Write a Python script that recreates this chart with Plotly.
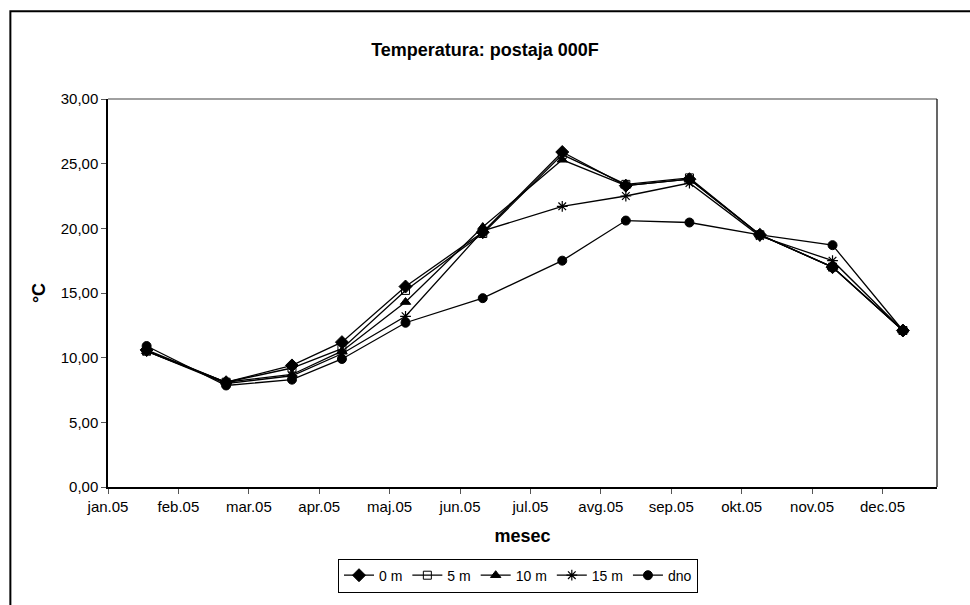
import plotly.graph_objects as go
import pandas as pd

# ---- data ----
dates = ["2005-01-18", "2005-02-22", "2005-03-23", "2005-04-14", "2005-05-12", "2005-06-15",
         "2005-07-20", "2005-08-17", "2005-09-14", "2005-10-15", "2005-11-16", "2005-12-17"]
t_0m  = [10.6, 8.1, 9.4, 11.2, 15.5, 19.7, 25.9, 23.3, 23.8, 19.5, 17.0, 12.1]
t_5m  = [10.5, 8.1, 9.2, 10.7, 15.2, 19.6, 25.7, 23.4, 23.9, 19.5, 17.0, 12.1]
t_10m = [10.5, 8.1, 8.7, 10.5, 14.3, 20.1, 25.3, 23.3, 23.8, 19.5, 17.0, 12.1]
t_15m = [10.5, 8.0, 8.6, 10.3, 13.2, 19.8, 21.7, 22.5, 23.5, 19.4, 17.5, 12.1]
t_dno = [10.9, 7.85, 8.3, 9.9, 12.7, 14.6, 17.5, 20.6, 20.45, 19.5, 18.7, 12.1]

series_names = ["0 m", "5 m", "10 m", "15 m", "dno"]
tick_labels = ["jan.05", "feb.05", "mar.05", "apr.05", "maj.05", "jun.05",
               "jul.05", "avg.05", "sep.05", "okt.05", "nov.05", "dec.05"]
y_ticks = [0, 5, 10, 15, 20, 25, 30]

# axis scale: Excel scatter date axis, min 1.1.2005, max 1.1.2006, major unit 31 days
x_start = pd.Timestamp("2005-01-01")
x_end = pd.Timestamp("2006-01-01")
tick_pos = [(x_start + pd.Timedelta(days=31 * i)).strftime("%Y-%m-%d") for i in range(len(tick_labels))]

styles = [
    dict(symbol="diamond", size=10, color="black", line=dict(color="black", width=1)),
    dict(symbol="square-open", size=8, color="black", line=dict(color="black", width=1)),
    dict(symbol="triangle-up", size=9, color="black", line=dict(color="black", width=1)),
    dict(symbol="asterisk-open", size=9, color="black", line=dict(color="black", width=1.2)),
    dict(symbol="circle", size=9, color="black", line=dict(color="black", width=1)),
]

FONT = "Liberation Sans, Arial, sans-serif"
fig = go.Figure()
for name, vals, st in zip(series_names, [t_0m, t_5m, t_10m, t_15m, t_dno], styles):
    fig.add_trace(go.Scatter(
        x=dates, y=vals, name=name, mode="lines+markers",
        line=dict(color="black", width=1.3),
        marker=st,
    ))

# plot-area geometry in pixels
L, R, T, B = 107.7, 937.3, 99.0, 492.2
W, H = 970, 605
pw, ph = R - L, B - T

def px_x(p):
    return (p - L) / pw

def px_y(p):
    return (B - p) / ph

fig.update_layout(
    width=W, height=H,
    margin=dict(l=L, r=W - R, t=T, b=H - B, pad=0),
    paper_bgcolor="white", plot_bgcolor="white",
    separators=",.",
    font=dict(family=FONT, size=15, color="black"),
    title=dict(text="<b>Temperatura: postaja 000F</b>", x=0.5, xref="container", xanchor="center",
               y=1 - 50 / H, yref="container", yanchor="middle",
               font=dict(size=18, family=FONT, color="black")),
    showlegend=True,
    legend=dict(orientation="h", x=px_x(518), xanchor="center", y=px_y(582), yanchor="middle",
                bordercolor="black", borderwidth=1, font=dict(size=14, family=FONT),
                itemwidth=30, tracegroupgap=0),
    xaxis=dict(
        type="date", range=[x_start.strftime("%Y-%m-%d"), x_end.strftime("%Y-%m-%d")],
        tickmode="array", tickvals=tick_pos, ticktext=tick_labels,
        ticks="outside", ticklen=5, tickcolor="#555", showgrid=False, zeroline=False,
        showline=True, linecolor="black", linewidth=1.5,
        tickfont=dict(size=15, family=FONT),
        title=dict(text="<b>mesec</b>", font=dict(size=18, family=FONT), standoff=16),
        automargin=False,
    ),
    yaxis=dict(
        range=[0, 30], tickmode="array", tickvals=y_ticks, tickformat=".2f",
        ticks="outside", ticklen=5, tickcolor="#555", showgrid=False, zeroline=False,
        showline=True, linecolor="black", linewidth=1.5,
        tickfont=dict(size=15, family=FONT),
        title=dict(text="<b>°C</b>", font=dict(size=18, family=FONT), standoff=10),
        automargin=False,
    ),
    shapes=[
        # plot area border (top gray, right dark)
        dict(type="line", xref="paper", yref="paper", x0=0, x1=1, y0=1, y1=1,
             line=dict(color="#808080", width=1.5), layer="below"),
        dict(type="line", xref="paper", yref="paper", x0=1, x1=1, y0=0, y1=1,
             line=dict(color="black", width=1.2), layer="below"),
        # chart area border (only left and top edges fall inside the picture)
        dict(type="rect", xref="paper", yref="paper",
             x0=px_x(10), x1=px_x(990), y0=px_y(625), y1=px_y(10),
             line=dict(color="black", width=2), fillcolor="rgba(0,0,0,0)", layer="below"),
    ],
)

fig.write_html("out.html")
